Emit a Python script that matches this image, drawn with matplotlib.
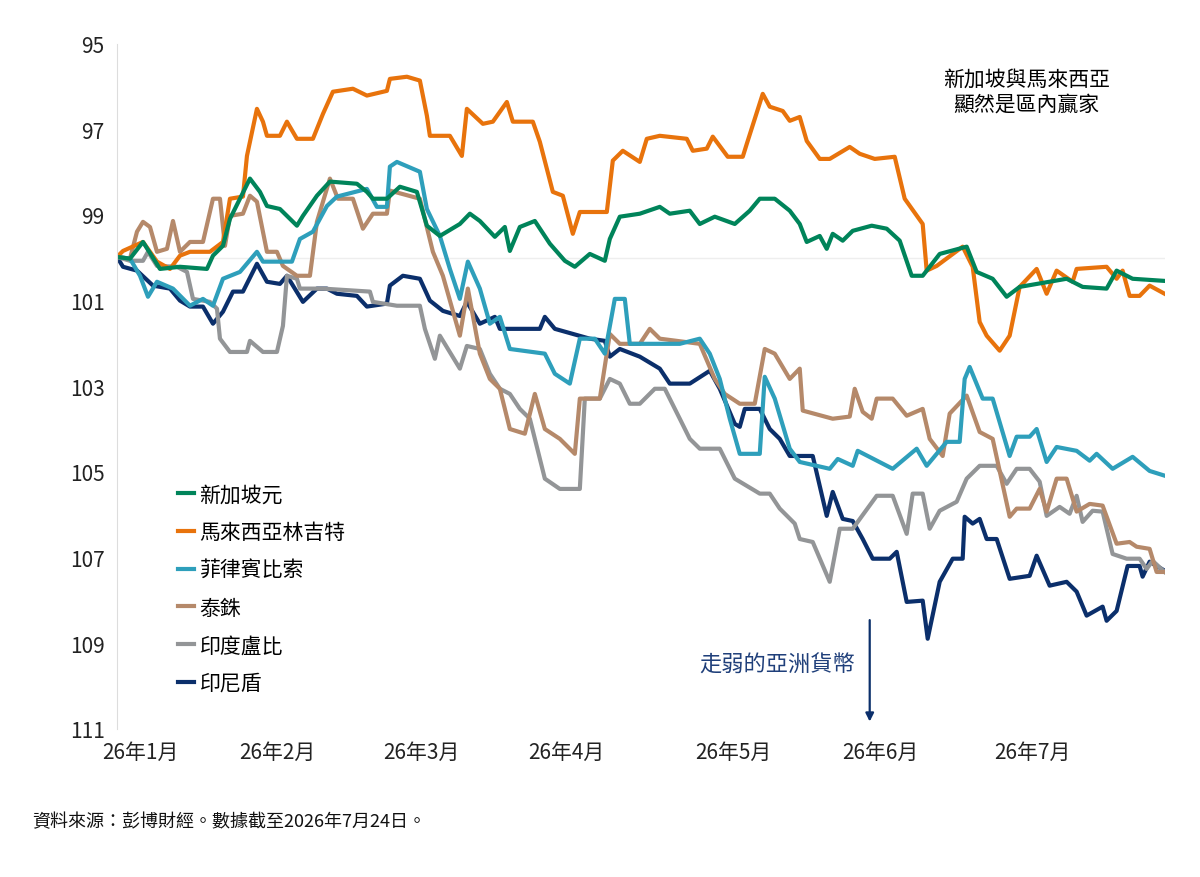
import matplotlib
matplotlib.use('Agg')
import matplotlib.pyplot as plt
import numpy as np

plt.rcParams['font.family'] = ['Noto Sans CJK TC', 'DejaVu Sans']

# (day offset, index level); axis inverted
series = {
    '新加坡元': ('#00845a', [
        (0, 99.98), (2.6, 100.02), (5.2, 99.63), (8.6, 100.26), (12.6, 100.21), (18, 100.26),
        (19.2, 99.95), (21.2, 99.72), (22.6, 99.09), (26.6, 98.15), (28.6, 98.46), (30, 98.79),
        (32.6, 98.86), (36, 99.25), (37.2, 99.02), (40, 98.55), (42.6, 98.22), (48, 98.27),
        (50, 98.46), (51.2, 98.62), (54, 98.62), (56.6, 98.34), (60, 98.46), (62, 99.25),
        (64.6, 99.49), (68.6, 99.21), (70.6, 98.97), (72.6, 99.14), (75.6, 99.51), (77.6, 99.28),
        (78.6, 99.84), (80.6, 99.28), (83.6, 99.14), (86.6, 99.67), (89.6, 100.07), (91.6, 100.21),
        (94.6, 99.91), (97.6, 100.07), (98.6, 99.56), (100.6, 99.04), (104.6, 98.97), (108.6, 98.81),
        (110.6, 98.97), (114.6, 98.90), (116.6, 99.21), (119.6, 99.04), (123.6, 99.21), (126.6, 98.90),
        (128.6, 98.62), (131.6, 98.62), (134.6, 98.90), (136.6, 99.21), (138, 99.63), (140.6, 99.49),
        (142, 99.79), (143.2, 99.44), (145.2, 99.60), (147.2, 99.37), (151, 99.25), (154, 99.32),
        (156.6, 99.60), (159, 100.42), (161.2, 100.42), (164.6, 99.91), (170, 99.74), (172, 100.33),
        (175.2, 100.49), (178, 100.91), (180.6, 100.68), (190, 100.49), (193.2, 100.68), (198, 100.72),
        (200, 100.30), (203.2, 100.49), (209.6, 100.54)]),
    '馬來西亞林吉特': ('#e8730c', [
        (0, 99.98), (1.2, 99.84), (5.2, 99.63), (8, 100.09), (10.6, 100.26), (12.6, 99.95),
        (14.6, 99.86), (18.6, 99.86), (21.2, 99.63), (22.6, 98.62), (25.2, 98.57), (26, 97.62),
        (28, 96.52), (29.2, 96.82), (30, 97.15), (32.6, 97.15), (34, 96.82), (36, 97.22),
        (39.2, 97.22), (41.2, 96.64), (43.2, 96.12), (47.2, 96.05), (50, 96.21), (54, 96.10),
        (54.6, 95.82), (58, 95.77), (60.6, 95.86), (62, 96.68), (62.6, 97.15), (66.6, 97.15),
        (69, 97.62), (70, 96.52), (73.2, 96.87), (75.2, 96.82), (78, 96.36), (79.2, 96.82),
        (83.2, 96.82), (84.6, 97.29), (87.2, 98.46), (89.2, 98.55), (91.2, 99.44), (92.6, 98.93),
        (98, 98.93), (99.2, 97.73), (101.2, 97.50), (104.6, 97.76), (106, 97.22), (108.6, 97.15),
        (114, 97.22), (115.2, 97.50), (118, 97.45), (119.2, 97.17), (122.2, 97.64), (125.2, 97.64),
        (126, 97.34), (129.2, 96.17), (130.6, 96.47), (133.2, 96.57), (134.6, 96.80), (136.6, 96.71),
        (138, 97.27), (140.6, 97.69), (142.6, 97.69), (146.6, 97.41), (148.6, 97.57), (151.6, 97.69),
        (155.6, 97.64), (157.6, 98.62), (161.2, 99.21), (162, 100.30), (164, 100.19), (169.2, 99.74),
        (171.2, 100.21), (172.6, 101.50), (174, 101.82), (176.6, 102.17), (178.6, 101.82), (180.6, 100.68),
        (184, 100.26), (186, 100.84), (188, 100.30), (191.2, 100.56), (192, 100.26), (198, 100.21),
        (200, 100.49), (201.2, 100.30), (202.6, 100.89), (204.6, 100.89), (206.6, 100.65), (209.6, 100.84)]),
    '菲律賓比索': ('#2e9fbb', [
        (0, 99.98), (2.6, 100.02), (4.6, 100.42), (6.2, 100.91), (8, 100.56), (11.2, 100.72),
        (14.6, 101.12), (17.2, 100.96), (19.2, 101.12), (21.2, 100.49), (24.6, 100.33), (28, 99.86),
        (29.2, 100.09), (35, 100.09), (36.6, 99.56), (39.2, 99.39), (42, 98.79), (44, 98.57),
        (50, 98.39), (52, 98.81), (54, 98.81), (54.6, 97.87), (56, 97.76), (60.6, 97.99),
        (62, 98.86), (64.6, 99.49), (66.6, 100.26), (68.6, 100.96), (70.2, 100.09), (72.6, 100.72),
        (74.6, 101.54), (76.6, 101.38), (78.6, 102.13), (85.6, 102.24), (87.6, 102.71), (90.6, 102.94),
        (92.6, 101.89), (95.6, 101.89), (97.6, 102.24), (99.6, 100.96), (101.6, 100.96), (102.6, 102.01),
        (112.6, 102.01), (116.6, 101.89), (118.6, 102.24), (120.6, 102.83), (122.6, 103.76), (124.6, 104.58),
        (128.6, 104.58), (129.6, 102.78), (131.6, 103.29), (134.6, 104.46), (136.6, 104.77), (142.6, 104.93),
        (144.2, 104.70), (147.2, 104.86), (148.2, 104.51), (155.2, 104.93), (160, 104.46), (162, 104.86),
        (166, 104.30), (168.6, 104.30), (169.6, 102.83), (170.6, 102.55), (173.2, 103.29), (175.2, 103.29),
        (178.6, 104.63), (180, 104.18), (182.6, 104.18), (184, 104.00), (186, 104.77), (188, 104.42),
        (192, 104.51), (194.6, 104.74), (196, 104.58), (199.2, 104.93), (203.2, 104.65), (206.6, 104.98),
        (209.6, 105.09)]),
    '泰銖': ('#b5896a', [
        (0, 99.98), (2.6, 100.02), (4, 99.39), (5.2, 99.16), (6.6, 99.28), (8, 99.86),
        (10, 99.79), (11.2, 99.14), (12.6, 99.86), (14.6, 99.63), (17.2, 99.63), (19.2, 98.62),
        (20.6, 98.62), (21.6, 99.72), (22.6, 99.02), (25.2, 98.97), (26.6, 98.55), (28, 98.69),
        (30, 99.86), (32, 99.86), (33.2, 100.19), (36, 100.42), (38.6, 100.42), (40, 99.16),
        (42.6, 98.15), (44.2, 98.62), (47.2, 98.62), (49.2, 99.32), (51.2, 98.97), (54, 98.97),
        (54.6, 98.43), (60.6, 98.62), (63.2, 99.86), (65.2, 100.42), (68.6, 101.82), (70.2, 100.72),
        (72.6, 102.24), (74.6, 102.83), (76.6, 103.06), (78.6, 104.00), (81.6, 104.11), (83.6, 103.18),
        (85.6, 104.00), (88.6, 104.23), (91.6, 104.58), (92.6, 103.29), (96.6, 103.29), (98.6, 101.78),
        (100.6, 102.01), (104.6, 102.01), (106.6, 101.66), (108.6, 101.89), (116.6, 102.01), (119.6, 102.83),
        (121.6, 103.18), (124.6, 103.41), (127.6, 103.41), (129.6, 102.13), (131.6, 102.24), (134.6, 102.83),
        (136.6, 102.59), (137.2, 103.57), (143.2, 103.76), (146.6, 103.71), (147.6, 103.06), (149.2, 103.60),
        (151, 103.76), (152, 103.29), (155.2, 103.29), (158, 103.69), (161.2, 103.53), (162.6, 104.23),
        (165.2, 104.63), (166.6, 103.64), (170, 103.22), (172.6, 104.07), (175.2, 104.23), (178.6, 106.05),
        (180, 105.86), (182.6, 105.86), (184.6, 105.40), (186, 105.93), (188, 105.16), (190, 105.16),
        (192, 105.93), (194.6, 105.75), (197.2, 105.79), (200, 106.68), (202.6, 106.64), (204, 106.75),
        (206.6, 106.80), (208, 107.34), (209.6, 107.34)]),
    '印度盧比': ('#939597', [
        (0, 99.98), (2.6, 100.07), (5.2, 100.07), (6.2, 99.86), (8, 100.19), (12, 100.21),
        (14, 100.33), (15.2, 100.96), (18.6, 101.03), (20, 101.19), (20.6, 101.89), (22.6, 102.20),
        (26, 102.20), (26.6, 101.94), (29.2, 102.20), (32, 102.20), (33.2, 101.59), (34, 100.42),
        (36, 100.49), (36.6, 100.72), (41.2, 100.72), (50.6, 100.79), (51.2, 101.03), (56, 101.12),
        (60.6, 101.12), (61.6, 101.66), (63.6, 102.36), (64.6, 101.82), (68.6, 102.59), (70, 102.06),
        (72.6, 102.13), (74.6, 102.71), (76.6, 103.06), (78.6, 103.18), (80.6, 103.53), (82.6, 103.76),
        (85.6, 105.16), (88.6, 105.40), (92.6, 105.40), (93.6, 103.29), (96.6, 103.29), (98.6, 102.83),
        (100.6, 102.94), (102.6, 103.41), (104.6, 103.41), (107.6, 103.06), (109.6, 103.06), (112.6, 103.76),
        (114.6, 104.23), (116.6, 104.46), (120.6, 104.46), (123.6, 105.16), (128.6, 105.51), (130.6, 105.51),
        (132.6, 105.86), (135.6, 106.21), (136.6, 106.57), (139.2, 106.64), (142.6, 107.57), (144.6, 106.33),
        (147.2, 106.33), (152, 105.56), (155.2, 105.56), (158, 106.45), (159.2, 105.51), (161.2, 105.51),
        (162.6, 106.33), (164.6, 105.91), (168, 105.70), (170, 105.16), (172.6, 104.86), (176, 104.86),
        (178, 105.28), (180, 104.93), (182.6, 104.93), (184.6, 105.23), (186, 106.03), (188.6, 105.82),
        (190.6, 105.98), (192, 105.56), (193.2, 106.17), (195.2, 105.91), (197.2, 105.93), (199.2, 106.92),
        (202, 107.03), (204.6, 107.03), (206, 107.27), (207.2, 107.08), (209.6, 107.34)]),
    '印尼盾': ('#0b2f6b', [
        (0, 99.98), (1.2, 100.21), (4, 100.30), (7.2, 100.65), (10.6, 100.72), (12.6, 101.00),
        (14.6, 101.14), (17.2, 101.14), (19.2, 101.54), (21.2, 101.26), (23.2, 100.79), (25.2, 100.79),
        (28, 100.14), (30, 100.56), (32.6, 100.61), (34, 100.42), (37.2, 101.03), (40, 100.72),
        (42, 100.72), (44, 100.84), (48, 100.89), (50, 101.14), (54, 101.07), (54.6, 100.65),
        (57.2, 100.42), (60.6, 100.49), (62.6, 101.00), (65.2, 101.24), (68.6, 101.36), (70, 101.03),
        (72.6, 101.54), (75.6, 101.38), (76.6, 101.66), (84.6, 101.66), (85.6, 101.38), (87.6, 101.66),
        (94.6, 101.89), (97.6, 101.94), (98.6, 102.31), (100.6, 102.13), (104.6, 102.31), (108.6, 102.59),
        (110.6, 102.94), (114.6, 102.94), (118.6, 102.64), (120.6, 103.06), (123.6, 103.88), (124.6, 103.95),
        (125.6, 103.53), (128.6, 103.53), (130.6, 104.00), (132.6, 104.23), (134.6, 104.63), (139.2, 104.63),
        (142, 106.03), (143.2, 105.47), (145.2, 106.10), (147.2, 106.15), (149.2, 106.57), (151.2, 107.03),
        (154.6, 107.03), (156, 106.87), (158, 108.04), (161.2, 108.01), (162.2, 108.90), (164.6, 107.57),
        (167.2, 107.03), (169.2, 107.03), (169.6, 106.05), (171.2, 106.21), (172.6, 106.10), (174, 106.57),
        (176, 106.57), (178.6, 107.50), (182.6, 107.43), (184, 106.96), (186.6, 107.66), (190, 107.57),
        (192, 107.80), (194, 108.36), (197.2, 108.15), (198, 108.48), (200, 108.25), (202.2, 107.20),
        (204.6, 107.20), (205.2, 107.45), (206.6, 107.10), (209.6, 107.31)]),
}

month_pos = [4.6, 32, 61, 89.8, 123.4, 152.8, 183.2]
month_lbl = ['26年%d月' % m for m in range(1, 8)]

fig = plt.figure(figsize=(12, 8.78), dpi=100)
ax = fig.add_axes([0.0975, 0.169, 0.873, 0.78])

# draw the later series first so the navy line sits on top
for name in list(series)[::-1]:
    color, pts = series[name]
    x, y = zip(*pts)
    ax.plot(x, y, color=color, lw=3, label=name, solid_joinstyle='round')

ax.set_xlim(0, 209.6)
ax.set_ylim(111, 95)
ax.set_yticks(np.arange(95, 112, 2))
ax.set_xticks(month_pos)
ax.set_xticklabels(month_lbl)
ax.axhline(100, color='#eeeeee', lw=1, zorder=0)
ax.tick_params(axis='both', length=0, labelsize=15, colors='#222222', pad=9)
for s in ['top', 'right', 'bottom']:
    ax.spines[s].set_visible(False)
ax.spines['left'].set_color('#dddddd')

handles, labels = ax.get_legend_handles_labels()
ax.legend(handles[::-1], labels[::-1], loc='upper left', bbox_to_anchor=(0.04, 0.385),
          frameon=False, fontsize=15, handlelength=0.8, handletextpad=0.25,
          labelspacing=0.75)

ax.text(0.868, 0.965, '新加坡與馬來西亞\n顯然是區內贏家', transform=ax.transAxes,
        ha='center', va='top', fontsize=15, linespacing=1.15)
ax.text(0.63, 0.085, '走弱的亞洲貨幣', transform=ax.transAxes, ha='center',
        color='#1f3f7a', fontsize=16)
ax.annotate('', xy=(150.6, 110.9), xytext=(150.6, 108.4),
            arrowprops=dict(arrowstyle='-|>', color='#0b2f6b', lw=1.6, mutation_scale=12))

fig.text(0.027, 0.058, '資料來源：彭博財經。數據截至2026年7月24日。', fontsize=13, color='#111111')

fig.savefig('out.png', dpi=100)
